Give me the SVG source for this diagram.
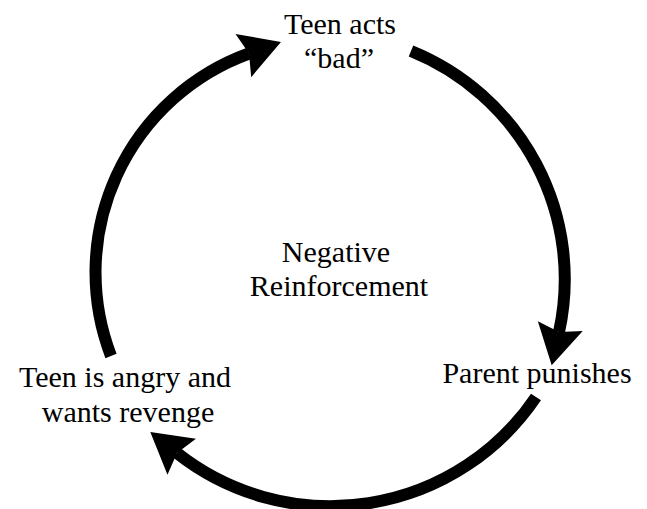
<svg xmlns="http://www.w3.org/2000/svg" width="647" height="509" viewBox="0 0 647 509">
  <style>
    .lbl { font-family: "Liberation Serif", "Times New Roman", serif; font-size: 30px; fill: #000; text-anchor: middle; }
    .arc { fill: none; stroke: #000; stroke-width: 12; stroke-linecap: butt; }
  </style>
  <defs>
    <marker id="head" viewBox="0 -23 40 46" markerWidth="40" markerHeight="46" refX="6" refY="0" orient="auto" markerUnits="userSpaceOnUse" overflow="visible">
      <path d="M0,-23 L40,0 L0,23 L6,0 Z" fill="#000"/>
    </marker>
  </defs>
  <rect width="647" height="509" fill="#fff"/>
  <g id="connectors">
    <path class="arc" d="M411,51 A246,246 0 0 1 559,332" marker-end="url(#head)"/>
    <path class="arc" d="M536,397 A248,248 0 0 1 177,453" marker-end="url(#head)"/>
    <path class="arc" d="M111,356 A233,233 0 0 1 249,53.5" marker-end="url(#head)"/>
  </g>
  <g id="teen-acts-bad">
    <text class="lbl" x="340" y="34">Teen acts</text>
    <text class="lbl" x="339" y="68">“bad”</text>
  </g>
  <g id="parent-punishes">
    <text class="lbl" x="537" y="383">Parent punishes</text>
  </g>
  <g id="teen-angry">
    <text class="lbl" x="125" y="387">Teen is angry and</text>
    <text class="lbl" x="128" y="422">wants revenge</text>
  </g>
  <g id="center-label">
    <text class="lbl" x="336" y="262">Negative</text>
    <text class="lbl" x="339" y="296">Reinforcement</text>
  </g>
</svg>
